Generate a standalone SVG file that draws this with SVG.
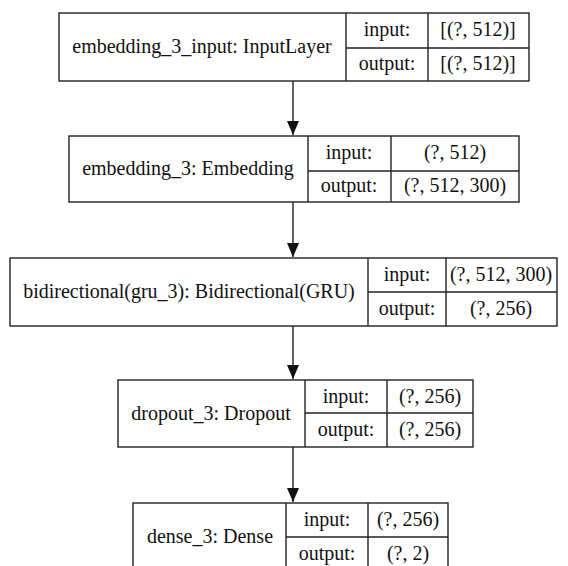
<svg xmlns="http://www.w3.org/2000/svg" width="568" height="566" viewBox="0 0 568 566">
<style>
.b{fill:#fff;stroke:#222;stroke-width:1.4}
.l{stroke:#222;stroke-width:1.4;fill:none}
.t{font-size:20px;fill:#111;text-anchor:middle}
</style>
<defs>
<marker id="ah" markerWidth="14" markerHeight="12" refX="14" refY="6" orient="auto" markerUnits="userSpaceOnUse" viewBox="0 0 14 12">
<path d="M0,0 L14,6 L0,12 Z" fill="#111"/>
</marker>
</defs>
<rect width="568" height="566" fill="#fff"/>
<g id="connectors">
<line class="l" x1="293" y1="81" x2="293" y2="135" marker-end="url(#ah)"/>
<line class="l" x1="293" y1="202" x2="293" y2="257" marker-end="url(#ah)"/>
<line class="l" x1="293" y1="326" x2="293" y2="379" marker-end="url(#ah)"/>
<line class="l" x1="293" y1="447" x2="293" y2="502" marker-end="url(#ah)"/>
</g>
<g class="t" font-family="Liberation Serif, serif">
<g id="node1">
<rect class="b" x="59" y="13" width="470" height="68"/>
<line class="l" x1="346" y1="13" x2="346" y2="81"/>
<line class="l" x1="428" y1="13" x2="428" y2="81"/>
<line class="l" x1="346" y1="48" x2="529" y2="48"/>
<text x="202" y="53">embedding_3_input: InputLayer</text>
<text x="387" y="36">input:</text>
<text x="387" y="70">output:</text>
<text x="478" y="36">[(?, 512)]</text>
<text x="478" y="70">[(?, 512)]</text>
</g>
<g id="node2">
<rect class="b" x="69" y="136" width="450" height="66"/>
<line class="l" x1="308" y1="136" x2="308" y2="202"/>
<line class="l" x1="391" y1="136" x2="391" y2="202"/>
<line class="l" x1="308" y1="171" x2="519" y2="171"/>
<text x="188" y="175">embedding_3: Embedding</text>
<text x="349" y="159">input:</text>
<text x="349" y="192">output:</text>
<text x="455" y="159">(?, 512)</text>
<text x="455" y="192">(?, 512, 300)</text>
</g>
<g id="node3">
<rect class="b" x="10" y="258" width="547" height="68"/>
<line class="l" x1="368" y1="258" x2="368" y2="326"/>
<line class="l" x1="446" y1="258" x2="446" y2="326"/>
<line class="l" x1="368" y1="292" x2="557" y2="292"/>
<text x="189" y="298">bidirectional(gru_3): Bidirectional(GRU)</text>
<text x="407" y="281">input:</text>
<text x="407" y="315">output:</text>
<text x="501" y="281">(?, 512, 300)</text>
<text x="501" y="315">(?, 256)</text>
</g>
<g id="node4">
<rect class="b" x="118" y="380" width="355" height="67"/>
<line class="l" x1="305" y1="380" x2="305" y2="447"/>
<line class="l" x1="387" y1="380" x2="387" y2="447"/>
<line class="l" x1="305" y1="413" x2="473" y2="413"/>
<text x="211" y="420">dropout_3: Dropout</text>
<text x="346" y="403">input:</text>
<text x="346" y="436">output:</text>
<text x="430" y="403">(?, 256)</text>
<text x="430" y="436">(?, 256)</text>
</g>
<g id="node5">
<rect class="b" x="133" y="503" width="315" height="80"/>
<line class="l" x1="286" y1="503" x2="286" y2="583"/>
<line class="l" x1="368" y1="503" x2="368" y2="583"/>
<line class="l" x1="286" y1="537" x2="448" y2="537"/>
<text x="210" y="543">dense_3: Dense</text>
<text x="327" y="526">input:</text>
<text x="327" y="560">output:</text>
<text x="408" y="526">(?, 256)</text>
<text x="408" y="560">(?, 2)</text>
</g>
</g>
</svg>
